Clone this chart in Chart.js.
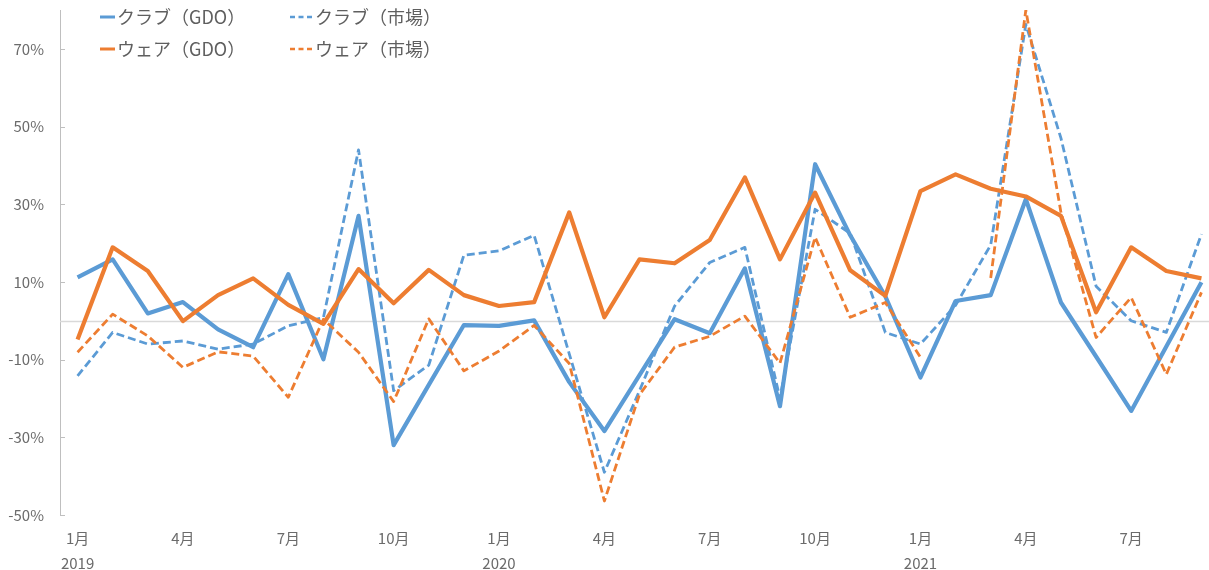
<!DOCTYPE html>
<html lang="ja">
<head>
<meta charset="UTF-8" />
<title>クラブ・ウェア 前年同月比</title>
<script src="https://cdn.jsdelivr.net/npm/chart.js"></script>
<style>
  html, body { margin: 0; padding: 0; background: #fff; overflow: hidden; }
  .wrap { position: relative; width: 1220px; height: 570px; }
</style>
</head>
<body>
<div class="wrap"><canvas id="chart"></canvas></div>
<script>
  // months 2019/1 .. 2021/9
  const months = [
    '1月','2月','3月','4月','5月','6月','7月','8月','9月','10月','11月','12月',
    '1月','2月','3月','4月','5月','6月','7月','8月','9月','10月','11月','12月',
    '1月','2月','3月','4月','5月','6月','7月','8月','9月'
  ];
  const years = [
    '2019','','','','','','','','','','','',
    '2020','','','','','','','','','','','',
    '2021','','','','','','','',''
  ];
  const yTicks = [-50, -30, -10, 10, 30, 50, 70];

  // year-on-year change, %
  const clubGdo = [
    11.2, 15.8, 1.9, 4.8, -2.2, -6.8, 12, -9.9, 27, -32, -16.5, -1.1,
    -1.3, 0.1, -15.8, -28.4, -14, 0.4, -3.2, 13.5, -22, 40.3, 22, 6.3,
    -14.6, 5.1, 6.6, 31.3, 4.7, -9.2, -23.2, -6.6, 9.9
  ];
  const clubMarket = [
    -14.2, -3, -6, -5.2, -7.3, -6, -1.3, 0.8, 44, -18, -11.4, 16.9,
    18, 22, -8.5, -39, -18, 3.8, 15, 18.9, -20, 28.7, 22.5, -3,
    -6, 4, 19.5, 76.3, 47, 8.9, 0, -3, 22.3
  ];
  const wearGdo = [
    -4.8, 18.9, 12.8, -0.1, 6.6, 10.9, 4.1, -0.8, 13.3, 4.5, 13.1, 6.6,
    3.8, 4.8, 27.9, 0.9, 15.8, 14.8, 20.8, 36.9, 15.8, 33, 13, 6.4,
    33.4, 37.7, 34, 32, 27, 2.2, 18.9, 12.8, 10.9
  ];
  const wearMarket = [
    -8.1, 1.7, -3.9, -12, -8, -9.1, -19.7, 0.4, -8.1, -20.8, 0.5, -12.9,
    -7.8, -1.2, -11, -46.4, -19, -6.8, -4, 1.2, -10.9, 21.5, 0.9, 4.7,
    -9.4, null, 11, 80, 27.9, -4.3, 6, -13.8, 7.3
  ];

  const BLUE = '#5B9BD5';
  const ORANGE = '#ED7D31';
  const TEXT = '#6b6b6b';
  const FONT = "'Noto Sans CJK JP', 'Noto Sans', sans-serif";

  function series(label, data, color, dashed, order) {
    return {
      label, data, order,
      borderColor: color,
      backgroundColor: color,
      borderWidth: dashed ? 2.8 : 4.2,
      borderDash: dashed ? [8, 4] : [],
      borderJoinStyle: 'round',
      pointRadius: 0,
      pointHoverRadius: 0,
      tension: 0,
      spanGaps: false
    };
  }

  // zero line, inner tick marks and the two-column legend
  const extras = {
    id: 'extras',
    beforeDatasetsDraw(chart) {
      const { ctx, chartArea, scales: { y } } = chart;
      ctx.save();
      const y0 = Math.round(y.getPixelForValue(0)) + 0.5;
      ctx.strokeStyle = '#D9D9D9';
      ctx.lineWidth = 1.5;
      ctx.beginPath();
      ctx.moveTo(chartArea.left, y0);
      ctx.lineTo(chartArea.right, y0);
      ctx.stroke();

      ctx.strokeStyle = '#BFBFBF';
      ctx.lineWidth = 1;
      ctx.beginPath();
      yTicks.forEach(v => {
        const py = Math.round(y.getPixelForValue(v)) + 0.5;
        ctx.moveTo(chartArea.left, py);
        ctx.lineTo(chartArea.left + 5, py);
      });
      ctx.stroke();
      ctx.restore();
    },
    afterDraw(chart) {
      const ctx = chart.ctx;
      const colX = [100, 290];
      const rowY = [17, 49];
      ctx.save();
      ctx.font = '18px ' + FONT;
      ctx.textBaseline = 'middle';
      ctx.fillStyle = '#5f5f5f';
      chart.data.datasets.forEach((ds, i) => {
        const x = colX[i % 2];
        const yy = rowY[Math.floor(i / 2)];
        const dashed = ds.borderDash.length > 0;
        const len = dashed ? 23 : 15;
        ctx.strokeStyle = ds.borderColor;
        ctx.lineWidth = dashed ? 2.5 : 3;
        ctx.setLineDash(dashed ? [5, 3.5] : []);
        ctx.beginPath();
        ctx.moveTo(x, yy);
        ctx.lineTo(x + len, yy);
        ctx.stroke();
        ctx.fillText(ds.label, x + len + 2, yy);
      });
      ctx.restore();
    }
  };

  new Chart(document.getElementById('chart'), {
    type: 'line',
    data: {
      labels: months,
      datasets: [
        series('クラブ（GDO）', clubGdo, BLUE, false, 4),
        series('クラブ（市場）', clubMarket, BLUE, true, 3),
        series('ウェア（GDO）', wearGdo, ORANGE, false, 2),
        series('ウェア（市場）', wearMarket, ORANGE, true, 1)
      ]
    },
    options: {
      responsive: true,
      maintainAspectRatio: false,
      animation: false,
      layout: { padding: { top: 10, right: 1, bottom: 0, left: 0 } },
      plugins: {
        legend: { display: false },
        tooltip: { enabled: false }
      },
      scales: {
        x: {
          offset: true,
          grid: { display: false, drawTicks: false },
          border: { display: false },
          afterFit(scale) { scale.height = 55; },
          ticks: {
            autoSkip: false,
            maxRotation: 0,
            padding: 11,
            color: TEXT,
            font: { family: FONT, size: 15, lineHeight: 1.667 },
            callback(value, index) {
              if (index % 3 !== 0) return '';
              return years[index] ? [months[index], years[index]] : months[index];
            }
          }
        },
        y: {
          min: -50,
          max: 80,
          grid: { display: false, drawTicks: false },
          border: { display: true, color: '#BFBFBF', width: 1 },
          afterFit(scale) {
            scale.width = 60;
            scale.paddingTop = 0;
            scale.paddingBottom = 0;
          },
          afterBuildTicks(scale) {
            scale.ticks = yTicks.map(v => ({ value: v }));
          },
          ticks: {
            padding: 16,
            color: TEXT,
            font: { family: FONT, size: 15 },
            callback: v => v + '%'
          }
        }
      }
    },
    plugins: [extras]
  });
</script>
</body>
</html>
